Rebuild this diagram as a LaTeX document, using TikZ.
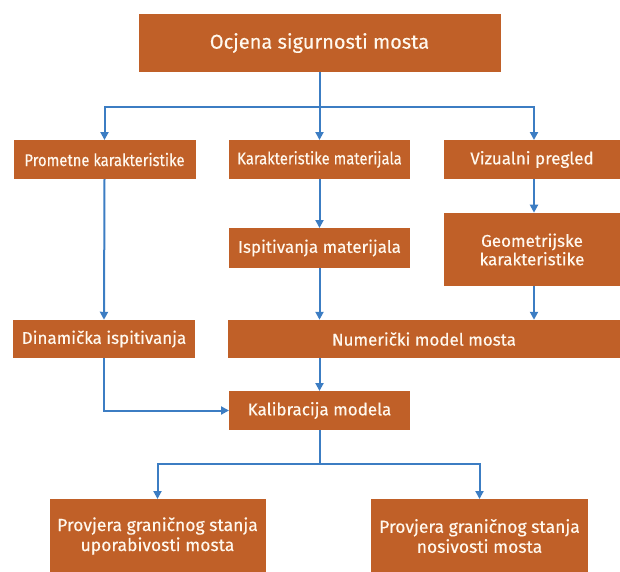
\documentclass[tikz,border=0pt]{standalone}
\usepackage{fontspec}
\setmainfont{Fira Sans}[FakeBold=0.3]
\newfontfamily\condfont{Fira Sans}[FakeStretch=0.87,FakeBold=0.3]
\usetikzlibrary{arrows.meta,calc}
\definecolor{boxfill}{RGB}{192,96,40}
\definecolor{linec}{RGB}{60,125,195}
\definecolor{txt}{RGB}{255,248,238}
\begin{document}
\begin{tikzpicture}[x=1pt,y=-1pt,
  box/.style={rectangle,fill=boxfill,text=txt,inner sep=0pt,outer sep=0pt,align=center,font=\fontsize{17}{18.5}\selectfont},
  conn/.style={draw=linec,line width=2pt},
  arr/.style={conn,-{Triangle[length=8pt,width=8pt]}}]
\useasboundingbox (0,0) rectangle (620,571);
\node[box,minimum width=362pt,minimum height=58pt,font=\fontsize{20}{22}\selectfont] (top) at (319.5,43) {Ocjena sigurnosti mosta};
\node[box,minimum width=182pt,minimum height=39pt,font=\condfont\fontsize{17}{18.5}\selectfont] (prom) at (104.5,159.5) {Prometne karakteristike};
\node[box,minimum width=181pt,minimum height=39pt,font=\condfont\fontsize{17}{18.5}\selectfont] (kar) at (319.5,159.5) {Karakteristike materijala};
\node[box,minimum width=177pt,minimum height=39pt] (viz) at (532,159.5) {Vizualni pregled};
\node[box,minimum width=181pt,minimum height=40pt] (isp) at (319.5,248) {Ispitivanja materijala};
\node[box,minimum width=177pt,minimum height=73pt] (geo) at (532,249.5) {Geometrijske\\karakteristike};
\node[box,minimum width=182pt,minimum height=38.5pt] (din) at (104,339) {Dinamička ispitivanja};
\node[box,minimum width=392pt,minimum height=38.5pt] (num) at (424,339) {Numerički model mosta};
\node[box,minimum width=181pt,minimum height=39pt] (kal) at (319.5,410.5) {Kalibracija modela};
\node[box,minimum width=216pt,minimum height=74pt,font=\fontsize{17.5}{20}\selectfont] (p1) at (157.5,536) {Provjera graničnog stanja\\uporabivosti mosta};
\node[box,minimum width=217pt,minimum height=74pt,font=\fontsize{17.5}{20}\selectfont] (p2) at (479.5,536) {Provjera graničnog stanja\\nosivosti mosta};
\coordinate (hA) at (319.5,106.7);
\coordinate (hB) at (319.5,464);
\coordinate (vizS) at (534,179);
\coordinate (geoN) at (534,212.7);
\coordinate (geoS) at (534,286);
\coordinate (numN) at (534,319.75);
\coordinate (vizN) at (534,140);
% top distribution
\draw[conn] (top.south) -- (hA);
\draw[arr] (hA) -| (prom.north);
\draw[arr] (hA) -- (kar.north);
\draw[arr] (hA) -| (vizN);
% middle
\draw[arr] (prom.south) -- (din.north);
\draw[arr] (kar.south) -- (isp.north);
\draw[arr] (isp.south) -- (isp.south |- num.north);
\draw[arr] (vizS) -- (geoN);
\draw[arr] (geoS) -- (numN);
\draw[arr] (isp.south |- num.south) -- (kal.north);
\draw[arr] (din.south) |- (kal.west);
% bottom distribution
\draw[conn] (kal.south) -- (hB);
\draw[arr] (hB) -| (p1.north);
\draw[arr] (hB) -| (p2.north);
\end{tikzpicture}
\end{document}
